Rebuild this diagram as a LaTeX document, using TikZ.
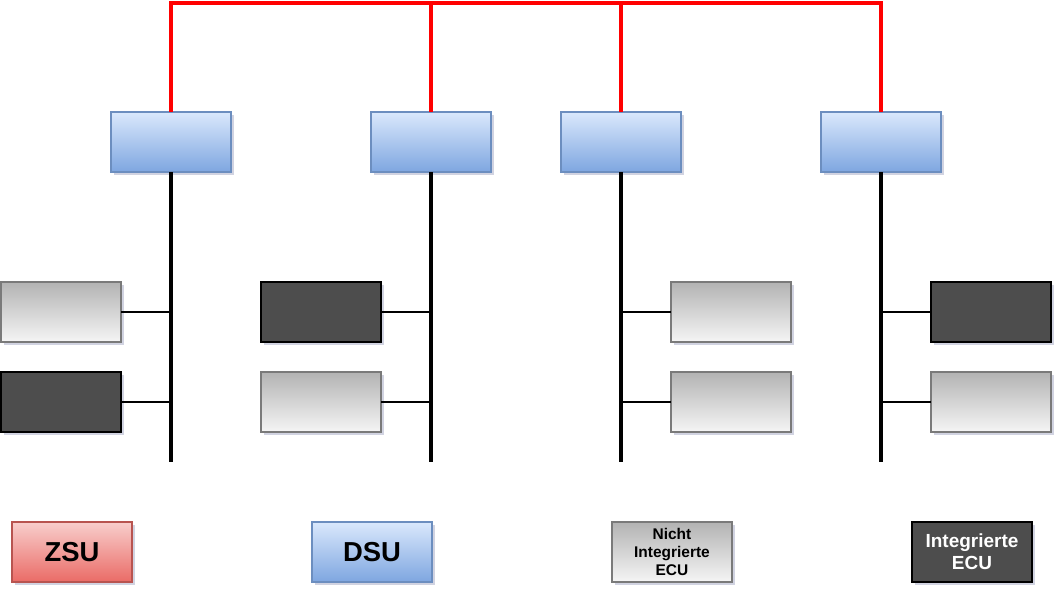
\documentclass[tikz,border=0pt]{standalone}
\usepackage{fontspec}
\setmainfont{Liberation Sans}
\usepackage{xcolor}
\usepackage{tikz}
\usetikzlibrary{positioning,shadows}
\definecolor{dsutop}{HTML}{DAE8FC}
\definecolor{dsubot}{HTML}{7EA6E0}
\definecolor{dsuline}{HTML}{6C8EBF}
\definecolor{zsutop}{HTML}{F8CECC}
\definecolor{zsubot}{HTML}{EA6B66}
\definecolor{zsuline}{HTML}{B85450}
\definecolor{ecutop}{HTML}{B3B3B3}
\definecolor{ecubot}{HTML}{F5F5F5}
\definecolor{eculine}{HTML}{7A7A7A}
\definecolor{ecudark}{HTML}{4D4D4D}
\definecolor{shade}{HTML}{C5C8DA}
\definecolor{busred}{HTML}{FF0000}

\begin{document}
\begin{tikzpicture}[x=0.025cm, y=-0.025cm,
        unit/.style={minimum width=3cm, minimum height=1.5cm, inner sep=0pt, outer sep=0pt,
              line width=1.4pt, font=\bfseries, align=center,
              drop shadow={shadow xshift=0.07cm, shadow yshift=-0.07cm, fill=shade, opacity=0.8}},
        dsu/.style={unit, draw=dsuline, top color=dsutop, bottom color=dsubot},
        zsu/.style={unit, draw=zsuline, top color=zsutop, bottom color=zsubot},
        ecu/.style={unit, draw=eculine, top color=ecutop, bottom color=ecubot},
        iecu/.style={unit, draw=black, fill=ecudark, text=white},
        bus/.style={line width=2.6pt, black},
        stub/.style={line width=2pt, black},
        backbone/.style={line width=2.6pt, busred}]
        \useasboundingbox (0,0) rectangle (1064,595);

        % gateways
        \node[dsu] (g1) at (171,142) {};
        \node[dsu] (g2) at (431,142) {};
        \node[dsu] (g3) at (621,142) {};
        \node[dsu] (g4) at (881,142) {};

        % backbone on top
        \coordinate (ring) at (0,3);
        \draw[backbone] (g1.north) -- (g1.north |- ring) -- (g4.north |- ring) -- (g4.north);
        \draw[backbone] (g2.north) -- (g2.north |- ring);
        \draw[backbone] (g3.north) -- (g3.north |- ring);

        % bus ends
        \coordinate (end) at (0,462);
        \draw[bus] (g1.south) -- (g1.south |- end);
        \draw[bus] (g2.south) -- (g2.south |- end);
        \draw[bus] (g3.south) -- (g3.south |- end);
        \draw[bus] (g4.south) -- (g4.south |- end);

        % ecus
        \node[ecu]  (e11) at (61,312) {};
        \node[iecu] (e12) at (61,402) {};
        \node[iecu] (e21) at (321,312) {};
        \node[ecu]  (e22) at (321,402) {};
        \node[ecu]  (e31) at (731,312) {};
        \node[ecu]  (e32) at (731,402) {};
        \node[iecu] (e41) at (991,312) {};
        \node[ecu]  (e42) at (991,402) {};

        \draw[stub] (e11.east) -- (e11.east -| g1);
        \draw[stub] (e12.east) -- (e12.east -| g1);
        \draw[stub] (e21.east) -- (e21.east -| g2);
        \draw[stub] (e22.east) -- (e22.east -| g2);
        \draw[stub] (e31.west) -- (e31.west -| g3);
        \draw[stub] (e32.west) -- (e32.west -| g3);
        \draw[stub] (e41.west) -- (e41.west -| g4);
        \draw[stub] (e42.west) -- (e42.west -| g4);

        % legend
        \node[zsu, font=\bfseries\fontsize{19.5}{22}\selectfont] (zsu) at (72,552) {ZSU};
        \node[dsu, font=\bfseries\fontsize{19.5}{22}\selectfont] (dsu) at (372,552) {DSU};
        \node[ecu, font=\bfseries\fontsize{11}{13}\selectfont] (necu) at (672,552) {Nicht\\Integrierte\\ECU};
        \node[iecu, font=\bfseries\fontsize{13.5}{15.8}\selectfont] (iecu) at (972,552) {Integrierte\\ECU};
    \end{tikzpicture}
\end{document}
